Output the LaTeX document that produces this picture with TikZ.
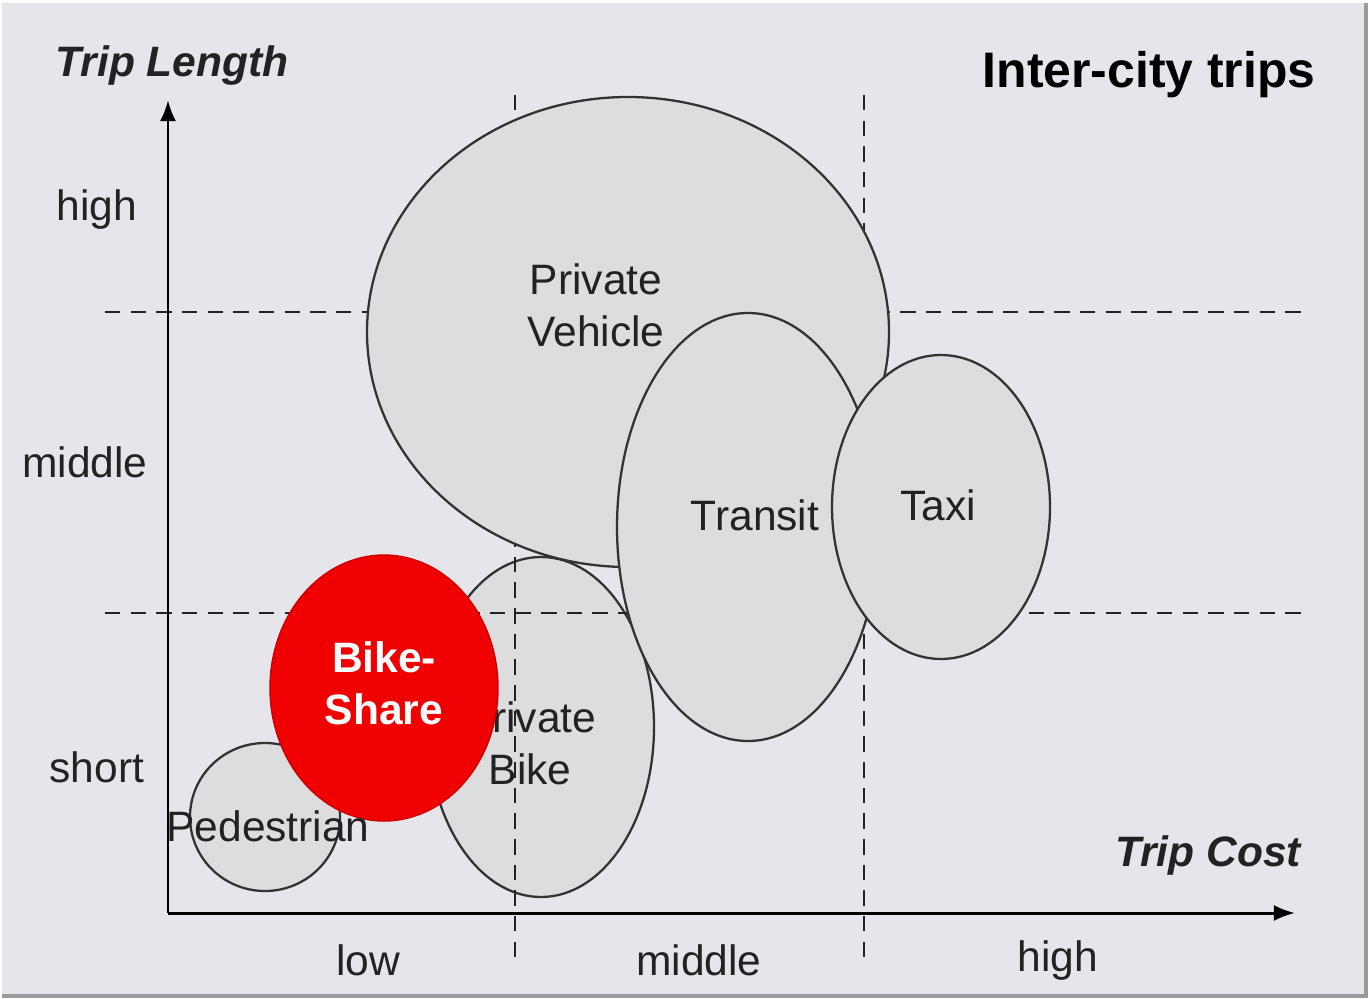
\documentclass[tikz,border=0pt]{standalone}
\usepackage{fontspec}
\setmainfont{Liberation Sans}
\usepackage{xcolor}
\usepackage{tikz}
\usetikzlibrary{arrows.meta}
\definecolor{mback}{HTML}{E7E5EC}
\definecolor{mfill}{HTML}{DDDDDF}
\definecolor{mline}{HTML}{333333}
\definecolor{mdash}{HTML}{222222}
\definecolor{mred}{HTML}{F00000}
\definecolor{mtext}{HTML}{222222}
\definecolor{mshade}{HTML}{9A9A9E}
\newcommand{\lblfont}{\fontsize{12.1}{14.8}\selectfont}
\newcommand{\ttlfont}{\fontsize{14.2}{17}\selectfont}

\begin{document}
\begin{tikzpicture}[x=1cm, y=1cm,
  mode/.style={fill=mfill, draw=mline, line width=0.65pt},
  grid/.style={mdash, line width=0.8pt, dash pattern=on 4.4pt off 2.9pt},
  axis/.style={black, line width=0.85pt, -{Latex[length=6pt, width=4.6pt]}},
  lbl/.style={font=\lblfont, text=mtext, align=center, inner sep=0pt},
  axtitle/.style={font=\lblfont\bfseries\itshape, text=mtext, inner sep=0pt}]

  %% Page and frame
  \fill[white] (0,0) rectangle (13.72,9.98);
  \fill[mback] (0.02,0.04) rectangle (13.64,9.95);
  \fill[mshade] (13.64,0.03) rectangle (13.68,9.95);
  \fill[mshade] (0.02,0.00) rectangle (13.68,0.04);
  \useasboundingbox (0,0) rectangle (13.72,9.98);

  %% Axis ends
  \coordinate (origin) at (1.68,0.85);
  \coordinate (ytip) at (1.68,8.98);
  \coordinate (xtip) at (12.95,0.85);

  %% Small modes (lie under the grid)
  \filldraw[mode] (2.65,1.81) ellipse (0.75 and 0.74);
  \filldraw[mode] (5.41,2.71) ellipse (1.13 and 1.70);
  \node[lbl] (pbike) at (5.30,2.55) {Private\\Bike};

  %% Grid: length bands and cost bands
  \coordinate (h1a) at (1.05,6.86);  \coordinate (h1b) at (13.05,6.86);
  \coordinate (h2a) at (1.05,3.85);  \coordinate (h2b) at (13.05,3.85);
  \coordinate (v1a) at (5.15,9.03);  \coordinate (v1b) at (5.15,0.38);
  \coordinate (v2a) at (8.64,9.03);  \coordinate (v2b) at (8.64,0.38);
  \draw[grid] (h1a) -- (h1b);
  \draw[grid] (h2a) -- (h2b);
  \draw[grid] (v1a) -- (v1b);
  \draw[grid] (v2a) -- (v2b);

  %% Large modes
  \filldraw[mode] (6.28,6.66) ellipse (2.61 and 2.35);
  \node[lbl] (pvehicle) at (5.96,6.93) {Private\\Vehicle};
  \filldraw[mode] (7.48,4.71) ellipse (1.31 and 2.14);
  \node[lbl] (transit) at (7.55,4.83) {Transit};
  \filldraw[mode] (9.41,4.91) ellipse (1.09 and 1.52);
  \node[lbl] (taxi) at (9.38,4.93) {Taxi};

  %% Bike-share
  \filldraw[fill=mred, draw=mred!85!black, line width=0.4pt] (3.84,3.10) ellipse (1.14 and 1.33);
  \node[lbl, text=white, font=\lblfont\bfseries] (share) at (3.84,3.15) {Bike-\\Share};
  \node[lbl] (pedestrian) at (2.68,1.72) {Pedestrian};

  %% Axes
  \draw[axis] (origin) -- (ytip);
  \draw[axis] (origin) -- (xtip);
  \node[axtitle] (ytitle) at (1.72,9.32) {Trip Length};
  \node[axtitle] (xtitle) at (12.08,1.43) {Trip Cost};
  \node[font=\ttlfont\bfseries, text=black, inner sep=0pt] (title) at (11.49,9.23) {Inter-city trips};

  %% Band labels
  \node[lbl] (lhigh) at (0.97,7.88) {high};
  \node[lbl] (lmid) at (0.85,5.36) {middle};
  \node[lbl] (lshort) at (0.97,2.31) {short};
  \node[lbl] (clow) at (3.68,0.38) {low};
  \node[lbl] (cmid) at (6.99,0.38) {middle};
  \node[lbl] (chigh) at (10.58,0.38) {high};

\end{tikzpicture}
\end{document}
